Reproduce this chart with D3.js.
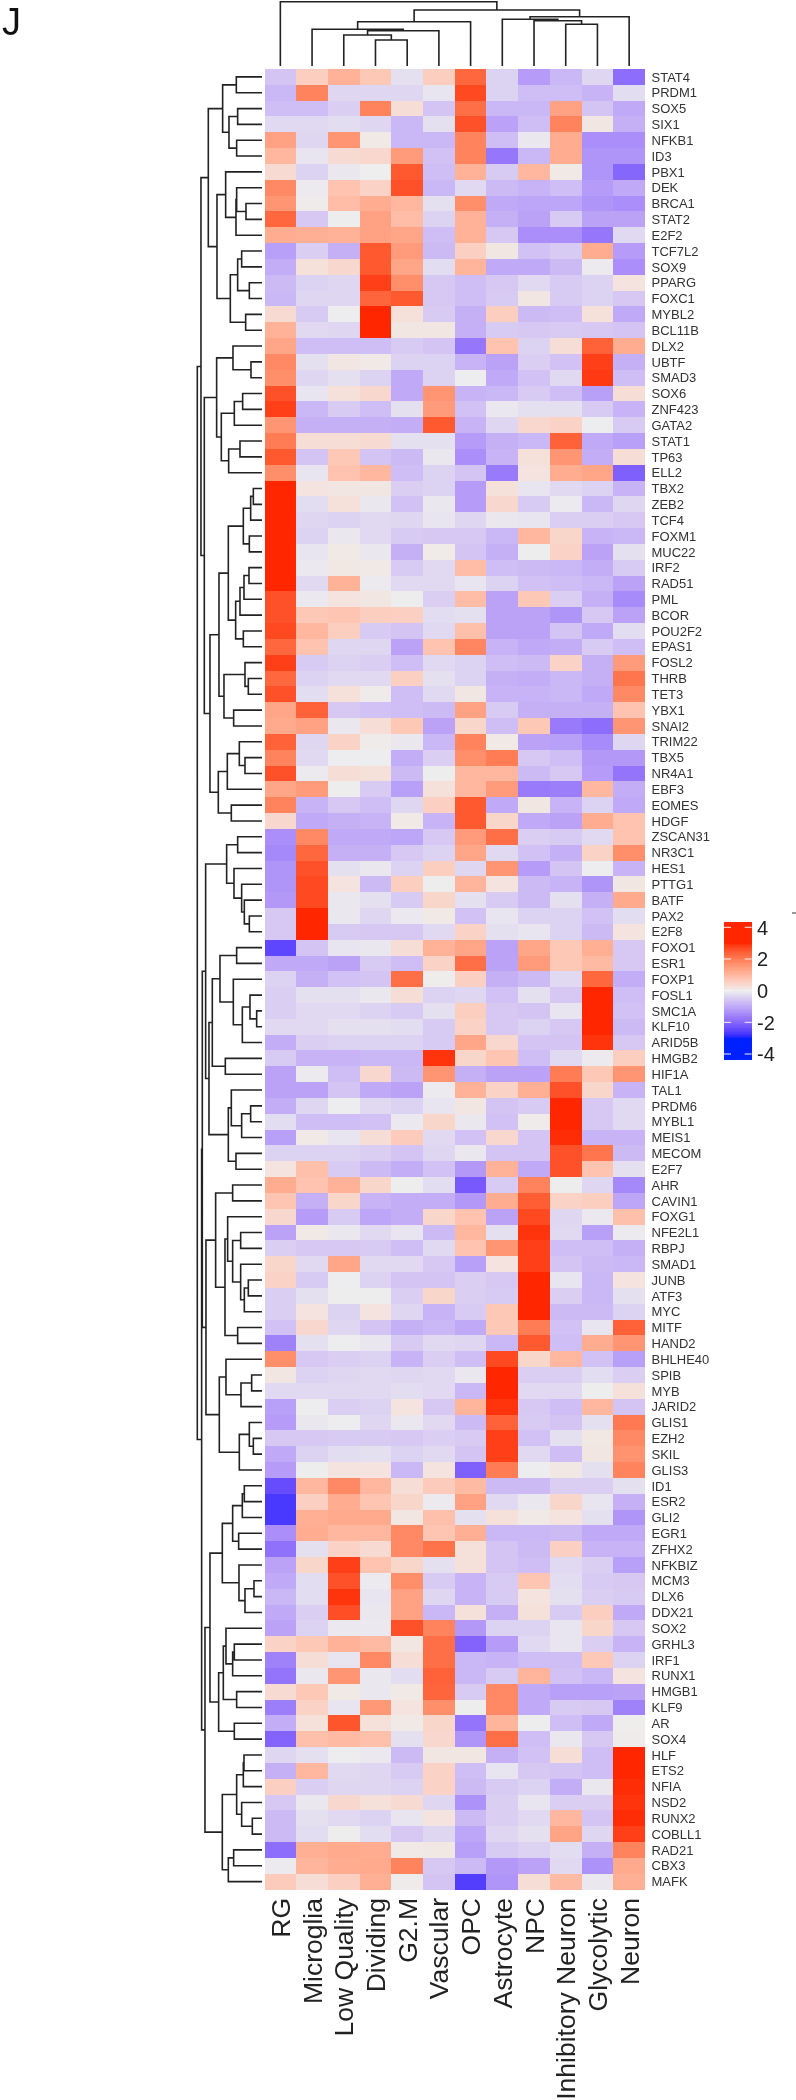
<!DOCTYPE html>
<html><head><meta charset="utf-8">
<script src="https://cdn.jsdelivr.net/npm/d3@7"></script>
<style>html,body{margin:0;padding:0;background:#fff}svg{display:block;filter:blur(0.35px)}text{font-family:"Liberation Sans",Arial,sans-serif}</style>
</head><body><svg id="c" width="796" height="2100"></svg>
<script>
const cellTypes=["RG","Microglia","Low Quality","Dividing","G2.M","Vascular","OPC","Astrocyte","NPC","Inhibitory Neuron","Glycolytic","Neuron"];
const genes=["STAT4","PRDM1","SOX5","SIX1","NFKB1","ID3","PBX1","DEK","BRCA1","STAT2","E2F2","TCF7L2","SOX9","PPARG","FOXC1","MYBL2","BCL11B","DLX2","UBTF","SMAD3","SOX6","ZNF423","GATA2","STAT1","TP63","ELL2","TBX2","ZEB2","TCF4","FOXM1","MUC22","IRF2","RAD51","PML","BCOR","POU2F2","EPAS1","FOSL2","THRB","TET3","YBX1","SNAI2","TRIM22","TBX5","NR4A1","EBF3","EOMES","HDGF","ZSCAN31","NR3C1","HES1","PTTG1","BATF","PAX2","E2F8","FOXO1","ESR1","FOXP1","FOSL1","SMC1A","KLF10","ARID5B","HMGB2","HIF1A","TAL1","PRDM6","MYBL1","MEIS1","MECOM","E2F7","AHR","CAVIN1","FOXG1","NFE2L1","RBPJ","SMAD1","JUNB","ATF3","MYC","MITF","HAND2","BHLHE40","SPIB","MYB","JARID2","GLIS1","EZH2","SKIL","GLIS3","ID1","ESR2","GLI2","EGR1","ZFHX2","NFKBIZ","MCM3","DLX6","DDX21","SOX2","GRHL3","IRF1","RUNX1","HMGB1","KLF9","AR","SOX4","HLF","ETS2","NFIA","NSD2","RUNX2","COBLL1","RAD21","CBX3","MAFK"];
const zScores=[
[-.6,.6,1.1,.7,-.2,.6,2.3,-.4,-1.2,-.8,-.35,-1.9],
[-.8,1.9,-.35,-.35,-.35,-.15,2.7,-.4,-.7,-.7,-.85,-.25],
[-.7,-.7,-.45,1.9,.3,-.6,2.2,-.8,-.8,1.4,-.6,-1],
[-.3,-.3,-.25,-.35,-.8,-.2,2.6,-1.1,-.7,1.9,.15,-.9],
[1.4,-.35,1.6,.1,-.8,-.8,1.9,-.7,-.1,1.2,-1.4,-1.4],
[1,-.15,.35,.4,1.5,-.65,1.9,-1.75,-.8,1.2,-1.3,-1.3],
[.35,-.4,-.1,0,2.5,-.7,1.1,-.5,1,.1,-1.3,-2],
[1.8,-.05,.8,.5,2.6,-.8,-.3,-.75,-.85,-.7,-1.2,-1],
[1.6,.05,.9,1.2,1,-.2,1.7,-1,-1.05,-1.05,-1.3,-1.4],
[2.3,-.55,-.02,1.4,.9,-.4,1.1,-.9,-1.1,-.5,-1.1,-1.1],
[1.2,1.15,1.1,1.4,1.3,-.7,1.1,-.55,-1.4,-1.4,-1.75,-.3],
[-1.15,-.45,-.9,2.5,1.5,-.75,.55,.15,-.65,-.5,1.2,-1.2],
[-.95,.25,.4,2.5,1.3,-.25,1.05,-1,-1,-.75,-.05,-1.4],
[-.75,-.4,-.35,2.8,1.7,-.55,-.7,-.55,-.3,-.5,-.4,.2],
[-.8,-.35,-.35,2.35,2.5,-.55,-.7,-.5,.15,-.5,-.4,-.55],
[.35,-.5,-.03,3,.25,-.5,-.9,.6,-.75,-.7,.25,-1],
[1.1,-.3,-.35,3,.15,.15,-.9,-.5,-.55,-.5,-.55,-.6],
[1.3,-.7,-.7,-.7,-.5,-.6,-1.75,.8,-.4,.3,2.4,1.2],
[1.8,-.2,.15,.1,-.4,-.4,-.85,-1.1,-.45,-.65,2.8,-.9],
[1.7,-.35,-.2,-.4,-1,-.4,-.03,-1,-.65,-.3,2.85,-.7],
[2.6,-.15,.25,.4,-1,1.6,-.85,-.8,-.5,-.7,-1.15,.3],
[2.8,-.8,-.5,-.7,-.2,1.5,-.65,-.1,-.2,-.2,-.5,-.85],
[1.6,-.9,-.9,-.9,-.95,2.5,-.85,-.35,.4,.5,-.03,-.5],
[2,.3,.3,.35,-.2,-.2,-1.2,-.9,-.8,2.4,-1,-1.15],
[2.5,-.6,.7,-.6,-.75,-.1,-1.4,-.85,.25,1.6,-.95,.3],
[1.7,-.15,.8,1,-.7,-.4,-.6,-1.7,.2,1.2,1.3,-2.1],
[3,.2,.15,.15,-.45,-.4,-1.2,.25,-.15,-.3,-.4,-.85],
[3,-.25,.25,-.1,-.65,-.1,-1.2,.4,-.5,-.05,-.8,-.35],
[3,-.35,-.4,-.3,-.35,-.15,-.35,-.1,-.15,-.45,-.45,-.55],
[3,-.4,-.1,-.3,-.5,-.55,-.55,-.8,1,.45,-.85,-.8],
[3,-.15,.1,-.1,-.9,.08,-.6,-.9,-.02,.5,-1.1,-.2],
[3,-.08,.12,.1,-.5,-.3,.9,-.7,-.75,-.8,-.95,-.5],
[3,-.3,1.1,-.05,-.3,-.3,-.15,-.4,-.65,-.7,-.8,-1.1],
[2.6,-.08,.2,.15,-.02,-.45,.9,-1.1,.7,-.45,-.9,-1.45],
[2.6,.7,.75,.6,.55,-.25,-.2,-1.1,-1.1,-1.3,-.55,-1.1],
[2.7,1,.6,-.5,-.6,-.3,.85,-1.1,-1.1,-.6,-1,-.25],
[2.3,.8,-.35,-.35,-1.1,.8,1.85,-.85,-1,-.95,-.5,-.7],
[2.8,-.5,-.4,-.45,-.7,-.3,-.4,-.7,-.75,.5,-.9,1.5],
[2.3,-.4,-.3,-.3,.55,-.2,-.4,-.9,-.95,-.8,-.9,2.1],
[2.6,-.25,.25,.05,-.7,-.3,.15,-.85,-.85,-.8,-1,1.8],
[1.3,2.4,-.55,-.65,-.7,-.75,1.4,-.5,-.9,-.9,-.9,.8],
[1.25,1.4,-.1,.3,.7,-1.1,.45,-.7,.7,-1.7,-1.9,1.6],
[2.4,-.35,.5,.05,-.1,-.8,1.9,.1,-1.1,-1.15,-1.45,-.35],
[1.9,-.3,-.03,-.03,-.95,-.45,1.7,2,-.55,-.7,-1.25,-1.25],
[2.6,-.05,.3,.25,-.75,-.02,1,1,-.75,-.55,-1.2,-1.8],
[1.3,1.5,-.02,-.5,-1.15,.25,1,1.5,-1.7,-1.65,1,-.95],
[1.9,-.85,-.55,-.7,-.35,.55,2.5,-1,.15,-.85,-.4,-1],
[.4,-1,-.9,-.85,.1,-.85,2.5,.45,-1,-1.1,1.2,.8],
[-1.4,1.8,-1,-1,-1.05,-.55,1.5,2.2,-.45,-.5,-.3,.8],
[-1.5,2.3,-.9,-.9,-.55,-.4,1.3,-.3,-.65,-.9,.5,1.7],
[-1.3,2.6,-.2,-.1,-.4,.6,-.35,1.6,-1.2,-.6,-.03,-.85],
[-1.3,2.7,.2,-.75,.6,-.02,1.05,.2,-.75,-.85,-1.3,.15],
[-1.25,2.7,-.1,-.2,-.5,.45,-.2,-.5,-.75,-.2,-.9,1.25],
[-.55,3,-.1,-.35,-.08,.1,-.65,-.15,-.4,-.4,-.65,-.25],
[-.55,3,-.5,-.55,-.55,-.3,.5,-.2,-.15,-.4,-.75,.2],
[-2.5,-.6,-.15,-.1,.3,1.1,1.3,-1.1,1.3,.7,1.15,-.55],
[-1,-1,-1.1,-.5,-.7,.5,2.2,-1.1,1.5,.7,.95,-.55],
[-.4,-.9,-.65,-.6,2.2,.02,.55,-.9,-.75,-.3,2.3,-.95],
[-.45,-.2,-.2,-.1,.3,-.4,-.35,-.65,-.2,-.55,3,-.7],
[-.45,-.3,-.3,-.4,-.5,-.2,.6,-.55,-.6,-.15,3,-.65],
[-.3,-.3,-.2,-.2,-.25,-.5,.5,-.55,-.4,-.55,3,-.75],
[-.95,-.45,-.4,-.4,-.4,-.5,1.3,.4,-.6,-.6,2.9,-.55],
[-.5,-.85,-.85,-.8,-.8,2.9,.45,.75,-.7,-.3,-.05,.6],
[-1.1,-.05,-.7,.4,-.75,1.6,-.9,-1.1,-1.1,2,.7,1.6],
[-1.1,-1.1,-.6,-1,-1.1,-.05,1.1,.5,1.15,2.6,.45,-.85],
[-.95,-.35,-.03,-.3,-.4,-.15,.15,-.6,-.5,3,-.55,-.3],
[-.25,-.7,-.7,-.65,-.08,.45,-.1,-.65,.05,3,-.55,-.3],
[-1.15,.1,-.15,.3,.65,-.3,-.65,.4,-.6,2.95,-.85,-.85],
[-.4,-.4,-.4,-.45,-.6,-.35,-.1,-.6,-.6,2.6,2.1,-.75],
[.2,.85,-.5,-.75,-.95,-.65,-1.25,1.1,-1,2.6,.8,-.2],
[1.2,.8,1.1,.45,.01,-.25,-2.2,-.5,1.9,-.02,-.35,-1.5],
[.75,-.9,.45,-.85,-.95,-.95,-1.25,1.2,2.45,.5,.6,-1.05],
[.4,-1.2,-.5,-1.05,-.95,.45,.8,-1.1,2.7,-.35,-.08,.85],
[-1.1,.1,-.1,-.3,-.15,-.75,1,-.2,2.9,-.3,-1.15,-.05],
[-.45,-.55,-.55,-.5,-.7,-.3,.8,1.6,2.8,-.7,-.7,-.9],
[.45,-.3,1.3,-.3,-.3,-.55,-1.15,.2,2.8,-.6,-.75,-.8],
[.5,-.5,-.03,-.4,-.6,-.6,-.45,-.55,3,-.15,-.8,.2],
[-.45,-.2,-.02,-.02,-.45,.45,-.45,-.5,3,-.45,-.8,-.2],
[-.45,.2,-.4,.2,-.35,-.85,-.5,.7,3,-.75,-.75,-.4],
[-.65,.4,-.35,-.6,-.9,-.8,-1,.7,2,-.65,-.15,2.4],
[-1.6,-.2,-.03,-.12,-.5,-.3,-.35,-.8,2.5,-.7,1.2,1.6],
[1.7,-.55,-.45,-.4,-.85,-.45,-.7,2.7,.45,1,-.65,-1.15],
[.15,-.4,-.35,-.3,-.35,-.3,-.1,3,-.45,-.45,-.25,-.45],
[-.3,-.3,-.3,-.3,-.25,-.3,-.8,3,-.3,-.3,-.02,.25],
[-1.15,-.03,-.45,-.4,.2,-.55,1.05,2.9,-.55,-.7,1,-.6],
[-1.2,-.1,-.03,-.35,-.1,-.3,-.75,2.4,-.5,-.6,-.2,2.05],
[-.55,-.55,-.5,-.5,-.55,-.45,-.5,2.8,-.65,-.2,.12,1.8],
[-1,-.4,-.25,-.2,-.4,-.3,-.6,2.8,-.3,-.7,.15,1.65],
[-1.2,-.02,.2,.2,-.8,.2,-2.1,2,-.03,.12,-.2,1.9],
[-2.4,1,1.8,1,.3,.65,.95,-.75,-.75,-.45,-.45,-.2],
[-2.7,.55,1.2,.75,.45,-.05,1.4,-.3,-.1,.45,-.15,-.9],
[-2.7,1.15,1.25,1.25,.15,.85,-.2,.25,.1,.2,-.2,-1.3],
[-1.4,1.2,1,1,1.8,.75,1.15,-.8,-.8,-.75,-1,-1],
[-1.85,-.2,.5,.35,1.8,2.15,.25,-.6,-.75,.55,-.85,-.85],
[-1.1,.45,2.8,.8,.45,-.2,.25,-.6,-.7,-.3,-.45,-1.15],
[-1,-.25,2.6,-.05,1.7,-.5,-.85,-.5,.75,-.25,-.5,-.55],
[-.8,-.25,2.9,-.15,1.4,-.35,-.85,-.5,.2,-.2,-.45,-.5],
[-1,-.45,2.65,-.1,1.4,-.8,.25,-.9,.25,-.5,.6,-1],
[-1.1,-.4,-.08,-.08,2.6,1.9,-1.25,-.4,-.4,-.15,.45,-.55],
[.5,.7,1.1,.95,.15,2.2,-2.05,-1.2,-.3,-.15,-.45,-.85],
[-1.6,.3,-.15,1.8,.3,2.2,-.8,-.85,-.7,-.7,.7,-.4],
[-1.8,-.1,1.6,-.1,-.25,2.4,-.8,-.5,1.05,-.65,-.8,.2],
[.35,.7,.1,-.1,.1,2.35,-.5,1.8,-1,-1.15,-1.15,-1.1],
[-1.65,.5,-.15,1.55,.2,1.7,-.02,1.8,-1,-.5,-.55,-1.6],
[-.95,.25,2.55,.25,.1,.45,-1.8,1.05,-.01,-.7,-1,.02],
[-2.05,.85,.95,.85,-.2,.4,-1.3,2.2,-.7,-.1,-.55,.05],
[-.35,-.2,-.03,-.08,-.75,.15,.15,-.9,-.65,.3,-.7,3],
[-.9,1,-.3,-.35,-.5,.5,-.7,-.15,-.55,-.6,-.7,3],
[.55,-.45,-.35,-.35,-.4,.5,-.75,-.5,-.4,-.95,-.1,2.95],
[-.55,-.1,.4,.25,.35,-.35,-1.35,-.45,-.15,-.45,-.45,2.9],
[-.75,-.2,-.3,-.4,-.15,.2,-.75,-.45,-.3,1,-.6,2.95],
[-.75,-.25,-.02,-.25,-.55,-.35,-1.05,-.35,-.2,1.35,-.35,2.8],
[-1.9,1.15,1.25,1.2,.1,.12,-1.15,-.5,-.4,-.25,-.9,1.9],
[-.05,1.05,1.2,1.25,1.9,-.55,-.75,-1.25,-1.1,-.3,-1.35,1.25],
[.65,.3,.55,1.15,.05,-.6,-2.6,-1.3,.3,.95,-.1,1.15]
];
// dendrograms: [merge height, left, right]; leaves are names
const rowTree=[194,
 [183,
  [161,
   [118,[77,"STAT4","PRDM1"],[99,[73,"SOX5","SIX1"],[76,"NFKB1","ID3"]]],
   [135,
    [109,"PBX1",[78,[76,"DEK",[48,"BRCA1","STAT2"]],"E2F2"]],
    [95,[73,[61,"TCF7L2","SOX9"],[38,"PPARG","FOXC1"]],[49,"MYBL2","BCL11B"]]]],
  [173,
   [136,
    [87,"DLX2",[33,"UBTF","SMAD3"]],
    [122,[83,[58,"SOX6","ZNF423"],"GATA2"],[100,[66,"STAT1","TP63"],"ELL2"]]],
   [156,
    [129,
     [101,
      [56,[34,[26,"TBX2","ZEB2"],"TCF4"],[38,"FOXM1","MUC22"]],
      [79,[66,[54,[39,"IRF2","RAD51"],"PML"],"BCOR"],[56,"POU2F2","EPAS1"]]],
     [114,[51,"FOSL2",[41,"THRB","TET3"]],[85,"YBX1","SNAI2"]]],
    [131,[104,[68,"TRIM22",[51,"TBX5","NR4A1"]],"EBF3"],[92,"EOMES","HDGF"]]]]],
 [181,
  [179,
   [169,
    [106,[73,"ZSCAN31","NR3C1"],[84,"HES1",[61,"PTTG1",[53,"BATF",[38,"PAX2","E2F8"]]]]],
    [159,
     [149,
      [126,[76,"FOXO1","ESR1"],[86,"FOXP1",[59,[36,"FOSL1",[16,"SMC1A","KLF10"]],"ARID5B"]]],
      [110,"HMGB2","HIF1A"]],
     [101,[92,"TAL1",[61,[34,"PRDM6","MYBL1"],"MEIS1"]],[78,"MECOM","E2F7"]]]],
   [168,
    [139,
     [88,"AHR","CAVIN1"],
     [111,[103,"FOXG1",[88,[64,"NFE2L1","RBPJ"],[64,"SMAD1",[53,[41,"JUNB","ATF3"],"MYC"]]]],[73,"MITF","HAND2"]]],
    [128,
     [108,"BHLHE40",[63,[31,"SPIB","MYB"],"JARID2"]],
     [68,[38,"GLIS1",[26,"EZH2","SKIL"]],"GLIS3"]]]],
  [171,
   [156,
    [119,
     [88,[59,[53,"ID1","ESR2"],"GLI2"],[70,"EGR1","ZFHX2"]],
     [69,"NFKBIZ",[51,[24,"MCM3","DLX6"],"DDX21"]]],
    [130,
     [116,[108,"SOX2",[88,[83,"GRHL3","IRF1"],"RUNX1"]],[76,"HMGB1","KLF9"]],
     [83,"AR","SOX4"]]],
   [119,
    [76,[56,[54,"HLF","ETS2"],"NFIA"],[61,"NSD2",[29,"RUNX2","COBLL1"]]],
    [101,[85,"RAD21","CBX3"],"MAFK"]]]]];
const colTree=[64.3,"RG",
 [56,
  [44.3,
   [36.7,"Microglia",[35.3,[31,"Low Quality",[26,"Dividing","G2.M"]],"Vascular"]],
   "OPC"],
  [49.3,[46.7,"Astrocyte",[45.3,"NPC",[41.7,"Inhibitory Neuron","Glycolytic"]]],"Neuron"]]];
const legendTicks=[4,2,0,-2,-4];

const svg=d3.select("#c");
const x=d3.scaleBand().domain(cellTypes).range([264.5,645]);
const y=d3.scaleBand().domain(genes).range([69,1889.5]);
const color=d3.scaleLinear().domain([-3,0,3]).range(["#0021ff","#eeeeee","#ff2600"]).interpolate(d3.interpolateLab).clamp(true);

// heatmap
svg.append("g").attr("shape-rendering","crispEdges").selectAll("g").data(zScores).join("g")
 .each(function(row,i){
  d3.select(this).selectAll("rect").data(row).join("rect")
   .attr("x",(d,j)=>x(cellTypes[j])).attr("y",y(genes[i]))
   .attr("width",x.bandwidth()).attr("height",y.bandwidth()+.5).attr("fill",d=>color(d));
 });

// row labels
svg.append("g").selectAll("text").data(genes).join("text")
 .attr("x",651.5).attr("y",d=>y(d)+y.bandwidth()/2).attr("dy","0.36em")
 .attr("font-size",13).attr("fill","#333").text(d=>d);
// column labels
svg.append("g").selectAll("text").data(cellTypes).join("text")
 .attr("transform",d=>`translate(${x(d)+x.bandwidth()/2},1898) rotate(-90)`)
 .attr("dy","0.36em").attr("text-anchor","end")
 .attr("font-size",26.5).attr("fill","#222").text(d=>d);

// dendrograms
function layout(node,leafPos){
 if(typeof node==="string") return {h:0,p:leafPos(node),segs:[]};
 const a=layout(node[1],leafPos),b=layout(node[2],leafPos);
 return {h:node[0],p:(a.p+b.p)/2,segs:[...a.segs,...b.segs,{h:node[0],a,b}]};
}
const rowH=d3.scaleLinear().domain([0,194]).range([262,197.3]);
const rowL=layout(rowTree,g=>y(g)+y.bandwidth()/2);
const link=d3.path;
const rowPath=link();
rowL.segs.forEach(s=>{
 rowPath.moveTo(rowH(s.a.h),s.a.p);rowPath.lineTo(rowH(s.h),s.a.p);
 rowPath.lineTo(rowH(s.h),s.b.p);rowPath.lineTo(rowH(s.b.h),s.b.p);
});
svg.append("path").attr("d",rowPath.toString()).attr("fill","none").attr("stroke","#222").attr("stroke-width",1.6);
const colH=d3.scaleLinear().domain([0,64.3]).range([66,1.7]);
const colL=layout(colTree,c=>x(c)+x.bandwidth()/2);
const colPath=link();
colL.segs.forEach(s=>{
 colPath.moveTo(s.a.p,colH(s.a.h));colPath.lineTo(s.a.p,colH(s.h));
 colPath.lineTo(s.b.p,colH(s.h));colPath.lineTo(s.b.p,colH(s.b.h));
});
svg.append("path").attr("d",colPath.toString()).attr("fill","none").attr("stroke","#222").attr("stroke-width",1.6);

// legend
const ly=d3.scaleLinear().domain([-4,4]).range([1054,927.3]);
const steps=d3.range(-4.35,4.35,0.05);
svg.append("g").attr("shape-rendering","crispEdges").selectAll("rect").data(steps).join("rect")
 .attr("x",724).attr("width",27.7).attr("y",d=>ly(d+0.05)).attr("height",Math.abs(ly(0)-ly(0.05))+.5).attr("fill",d=>color(d));
const lg=svg.append("g").selectAll("g").data(legendTicks).join("g");
lg.append("line").attr("x1",724).attr("x2",731).attr("y1",ly).attr("y2",ly).attr("stroke","#f4f4f4").attr("stroke-width",1);
lg.append("line").attr("x1",744.7).attr("x2",751.7).attr("y1",ly).attr("y2",ly).attr("stroke","#f4f4f4").attr("stroke-width",1);
lg.append("text").attr("x",757).attr("y",ly).attr("dy","0.36em").attr("font-size",20).attr("fill","#222").text(d=>d);
svg.append("line").attr("x1",792).attr("x2",796).attr("y1",913).attr("y2",913).attr("stroke","#333");

svg.append("text").attr("x",2).attr("y",35).attr("font-size",38).attr("fill","#111").text("J");
</script></body></html>
